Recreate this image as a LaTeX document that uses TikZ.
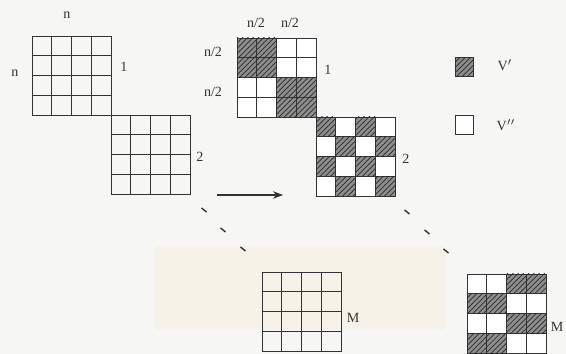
\documentclass[tikz,border=0pt]{standalone}
\usepackage{fontspec}
\setmainfont{Liberation Serif}
\usetikzlibrary{arrows.meta,patterns}
\definecolor{paper}{HTML}{F6F6F4}
\definecolor{tint}{HTML}{F6F2E7}
\definecolor{ink}{HTML}{333333}
\definecolor{shade}{HTML}{8E8E8E}
\definecolor{hatch}{HTML}{2A2A2A}

\begin{document}
\begin{tikzpicture}[>=Stealth, font=\footnotesize]
 \tikzstyle{gridbox}=[rectangle,draw=ink,line width=0.6pt,minimum size=1.58cm,inner sep=0pt,anchor=north west]
 \tikzstyle{cell}=[draw=ink,line width=0.5pt]
 \tikzstyle{vcell}=[cell,fill=shade,postaction={pattern=north east lines,pattern color=hatch}]
 \tikzstyle{lbl}=[text=ink,inner sep=1pt]
 \tikzstyle{dot}=[ink,line width=0.8pt]
 % paper and the tinted strip of the scan
 \fill[paper] (0,0) rectangle (11.32,-7.08);
 \useasboundingbox (0,0) rectangle (11.32,-7.08);
 \fill[tint] (3.10,-4.92) rectangle (8.90,-6.60);
 % left column: plain blocks
 \node[gridbox] (L1) at (0.64,-0.72) {};
 \node[gridbox] (L2) at (2.22,-2.30) {};
 \node[gridbox] (LM) at (5.24,-5.44) {};
 \foreach \g in {L1,L2,LM}{
  \begin{scope}[shift={(\g.north west)}]
   \foreach \r in {0,...,3}
    \foreach \c in {0,...,3}
     \draw[cell] ({\c*0.395},{-\r*0.395}) rectangle ++(0.395,-0.395);
  \end{scope}
 }
 % right column: blocks split into V' and V''
 \node[gridbox] (R1) at (4.74,-0.76) {};
 \node[gridbox] (R2) at (6.32,-2.34) {};
 \node[gridbox] (RM) at (9.34,-5.48) {};
 \foreach \g in {R1,R2,RM}{
  \begin{scope}[shift={(\g.north west)}]
   \foreach \r in {0,...,3}
    \foreach \c in {0,...,3}
     \draw[cell,fill=white] ({\c*0.395},{-\r*0.395}) rectangle ++(0.395,-0.395);
  \end{scope}
 }
 \begin{scope}[shift={(R1.north west)}]
  \foreach \c/\r in {0/0,1/0,0/1,1/1,2/2,3/2,2/3,3/3}
   \draw[vcell] ({\c*0.395},{-\r*0.395}) rectangle ++(0.395,-0.395);
 \end{scope}
 \begin{scope}[shift={(R2.north west)}]
  \foreach \c/\r in {0/0,2/0,1/1,3/1,0/2,2/2,1/3,3/3}
   \draw[vcell] ({\c*0.395},{-\r*0.395}) rectangle ++(0.395,-0.395);
 \end{scope}
 \begin{scope}[shift={(RM.north west)}]
  \foreach \c/\r in {2/0,3/0,0/1,1/1,2/2,3/2,0/3,1/3}
   \draw[vcell] ({\c*0.395},{-\r*0.395}) rectangle ++(0.395,-0.395);
 \end{scope}
 % labels
 \node[lbl] (nTop) at (1.34,-0.30) {n};
 \node[lbl] (nLeft) at (0.30,-1.46) {n};
 \node[lbl] (oneL) at (2.48,-1.34) {1};
 \node[lbl] (twoL) at (4.00,-3.14) {2};
 \node[lbl] (mL) at (7.06,-6.36) {M};
 \node[lbl] (halfA) at (5.12,-0.46) {n/2};
 \node[lbl] (halfB) at (5.80,-0.46) {n/2};
 \node[lbl] (halfC) at (4.26,-1.04) {n/2};
 \node[lbl] (halfD) at (4.26,-1.84) {n/2};
 \node[lbl] (oneR) at (6.56,-1.40) {1};
 \node[lbl] (twoR) at (8.12,-3.18) {2};
 \node[lbl,anchor=east] (mR) at (11.31,-6.54) {M};
 % legend
 \node[vcell,minimum size=0.37cm,inner sep=0pt] (keyA) at (9.29,-1.34) {};
 \node[cell,fill=white,minimum size=0.37cm,inner sep=0pt] (keyB) at (9.29,-2.50) {};
 \node[lbl] (keyAt) at (10.10,-1.30) {V$'$};
 \node[lbl] (keyBt) at (10.12,-2.50) {V$''$};
 % arrow and dots
 \coordinate (arrS) at (4.34,-3.90);
 \coordinate (arrE) at (5.66,-3.90);
 \draw[->,ink,line width=0.6pt] (arrS) -- (arrE);
 \foreach \x/\y in {4.08/-4.20,4.46/-4.60,4.86/-4.98,8.14/-4.24,8.54/-4.64,8.92/-5.02}
  \draw[dot] ({\x-0.05},{\y+0.04}) -- ({\x+0.05},{\y-0.04});
\end{tikzpicture}
\end{document}
